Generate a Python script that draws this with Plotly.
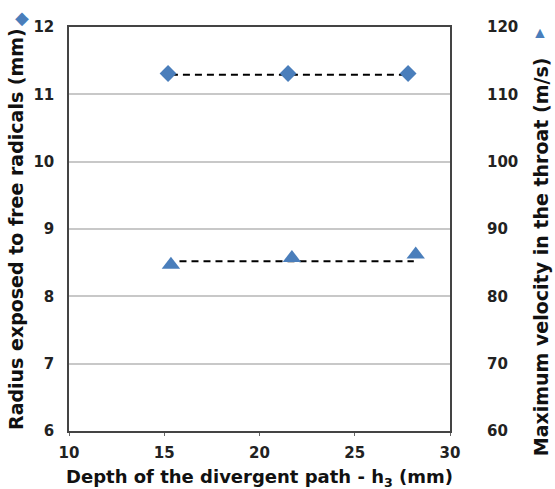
import plotly.graph_objects as go

# Data
depth_radius = [15.2, 21.5, 27.8]
radius_mm = [11.31, 11.31, 11.31]
depth_velocity = [15.35, 21.7, 28.2]
velocity_ms = [84.7, 85.7, 86.2]
radius_trend_x = [15.35, 27.6]
radius_trend_y = [11.29, 11.29]
velocity_trend_x = [15.8, 28.1]
velocity_trend_y = [85.2, 85.2]

x_ticks = [10, 15, 20, 25, 30]
left_ticks = [6, 7, 8, 9, 10, 11, 12]
right_ticks = [60, 70, 80, 90, 100, 110, 120]

BLUE = "#4a7ebb"
FONT = "DejaVu Sans"

fig = go.Figure()
fig.add_trace(go.Scatter(x=radius_trend_x, y=radius_trend_y, mode="lines",
                         line=dict(color="black", width=2, dash="7px,5px"),
                         showlegend=False, hoverinfo="skip"))
fig.add_trace(go.Scatter(x=depth_radius, y=radius_mm, mode="markers",
                         marker=dict(symbol="diamond", size=13, color=BLUE),
                         showlegend=False))
fig.add_trace(go.Scatter(x=velocity_trend_x, y=velocity_trend_y, mode="lines",
                         line=dict(color="black", width=2, dash="7px,5px"),
                         yaxis="y2", showlegend=False, hoverinfo="skip"))
fig.add_trace(go.Scatter(x=depth_velocity, y=velocity_ms, mode="markers",
                         marker=dict(symbol="triangle-up", size=16, color=BLUE),
                         yaxis="y2", showlegend=False))

tickfont = dict(family=FONT, size=15, color="#222", weight="bold")
xtitlefont = dict(family=FONT, size=18, color="#111", weight="bold")
ytitlefont = dict(family=FONT, size=19, color="#111", weight="bold")

fig.update_layout(
    width=555, height=489,
    margin=dict(l=69, r=105, t=27, b=58),
    paper_bgcolor="white", plot_bgcolor="white",
    xaxis=dict(range=[10, 30], tickvals=x_ticks, showgrid=False,
               showline=True, linecolor="#444", linewidth=1.5, mirror=True,
               ticks="outside", ticklen=3, tickcolor="#666",
               tickfont=tickfont, zeroline=False, ticklabelstandoff=4),
    yaxis=dict(range=[6, 12], tickvals=left_ticks, showgrid=True,
               gridcolor="#c8c8c8", gridwidth=1.5,
               showline=True, linecolor="#444", linewidth=1.5, mirror=True,
               tickfont=tickfont, zeroline=False, ticklabelstandoff=10),
    yaxis2=dict(range=[60, 120], tickvals=right_ticks, overlaying="y", side="right",
                showgrid=False, showline=False, zeroline=False,
                tickfont=tickfont, ticklabelstandoff=36),
    annotations=[
        dict(text="Depth of the divergent path - h<sub>3</sub> (mm)",
             xref="paper", yref="paper", x=0.5, y=0, yshift=-47,
             xanchor="center", yanchor="middle",
             showarrow=False, font=xtitlefont),
        dict(text="Radius exposed to free radicals (mm)", textangle=-90,
             xref="paper", yref="paper", x=0, y=0.5, xshift=-53,
             xanchor="center", yanchor="middle",
             showarrow=False, font=ytitlefont),
        dict(text="Maximum velocity in the throat (m/s)", textangle=-90,
             xref="paper", yref="paper", x=1, y=0.43, xshift=91,
             xanchor="center", yanchor="middle",
             showarrow=False, font=ytitlefont),
        dict(text="◆", xref="paper", yref="paper", x=0, y=1, xshift=-47, yshift=10,
             xanchor="center", yanchor="middle",
             showarrow=False, font=dict(size=18, color=BLUE)),
        dict(text="▲", xref="paper", yref="paper", x=1, y=1, xshift=90, yshift=-5,
             xanchor="center", yanchor="middle",
             showarrow=False, font=dict(size=16, color=BLUE)),
    ],
)

fig.write_html("out.html")
